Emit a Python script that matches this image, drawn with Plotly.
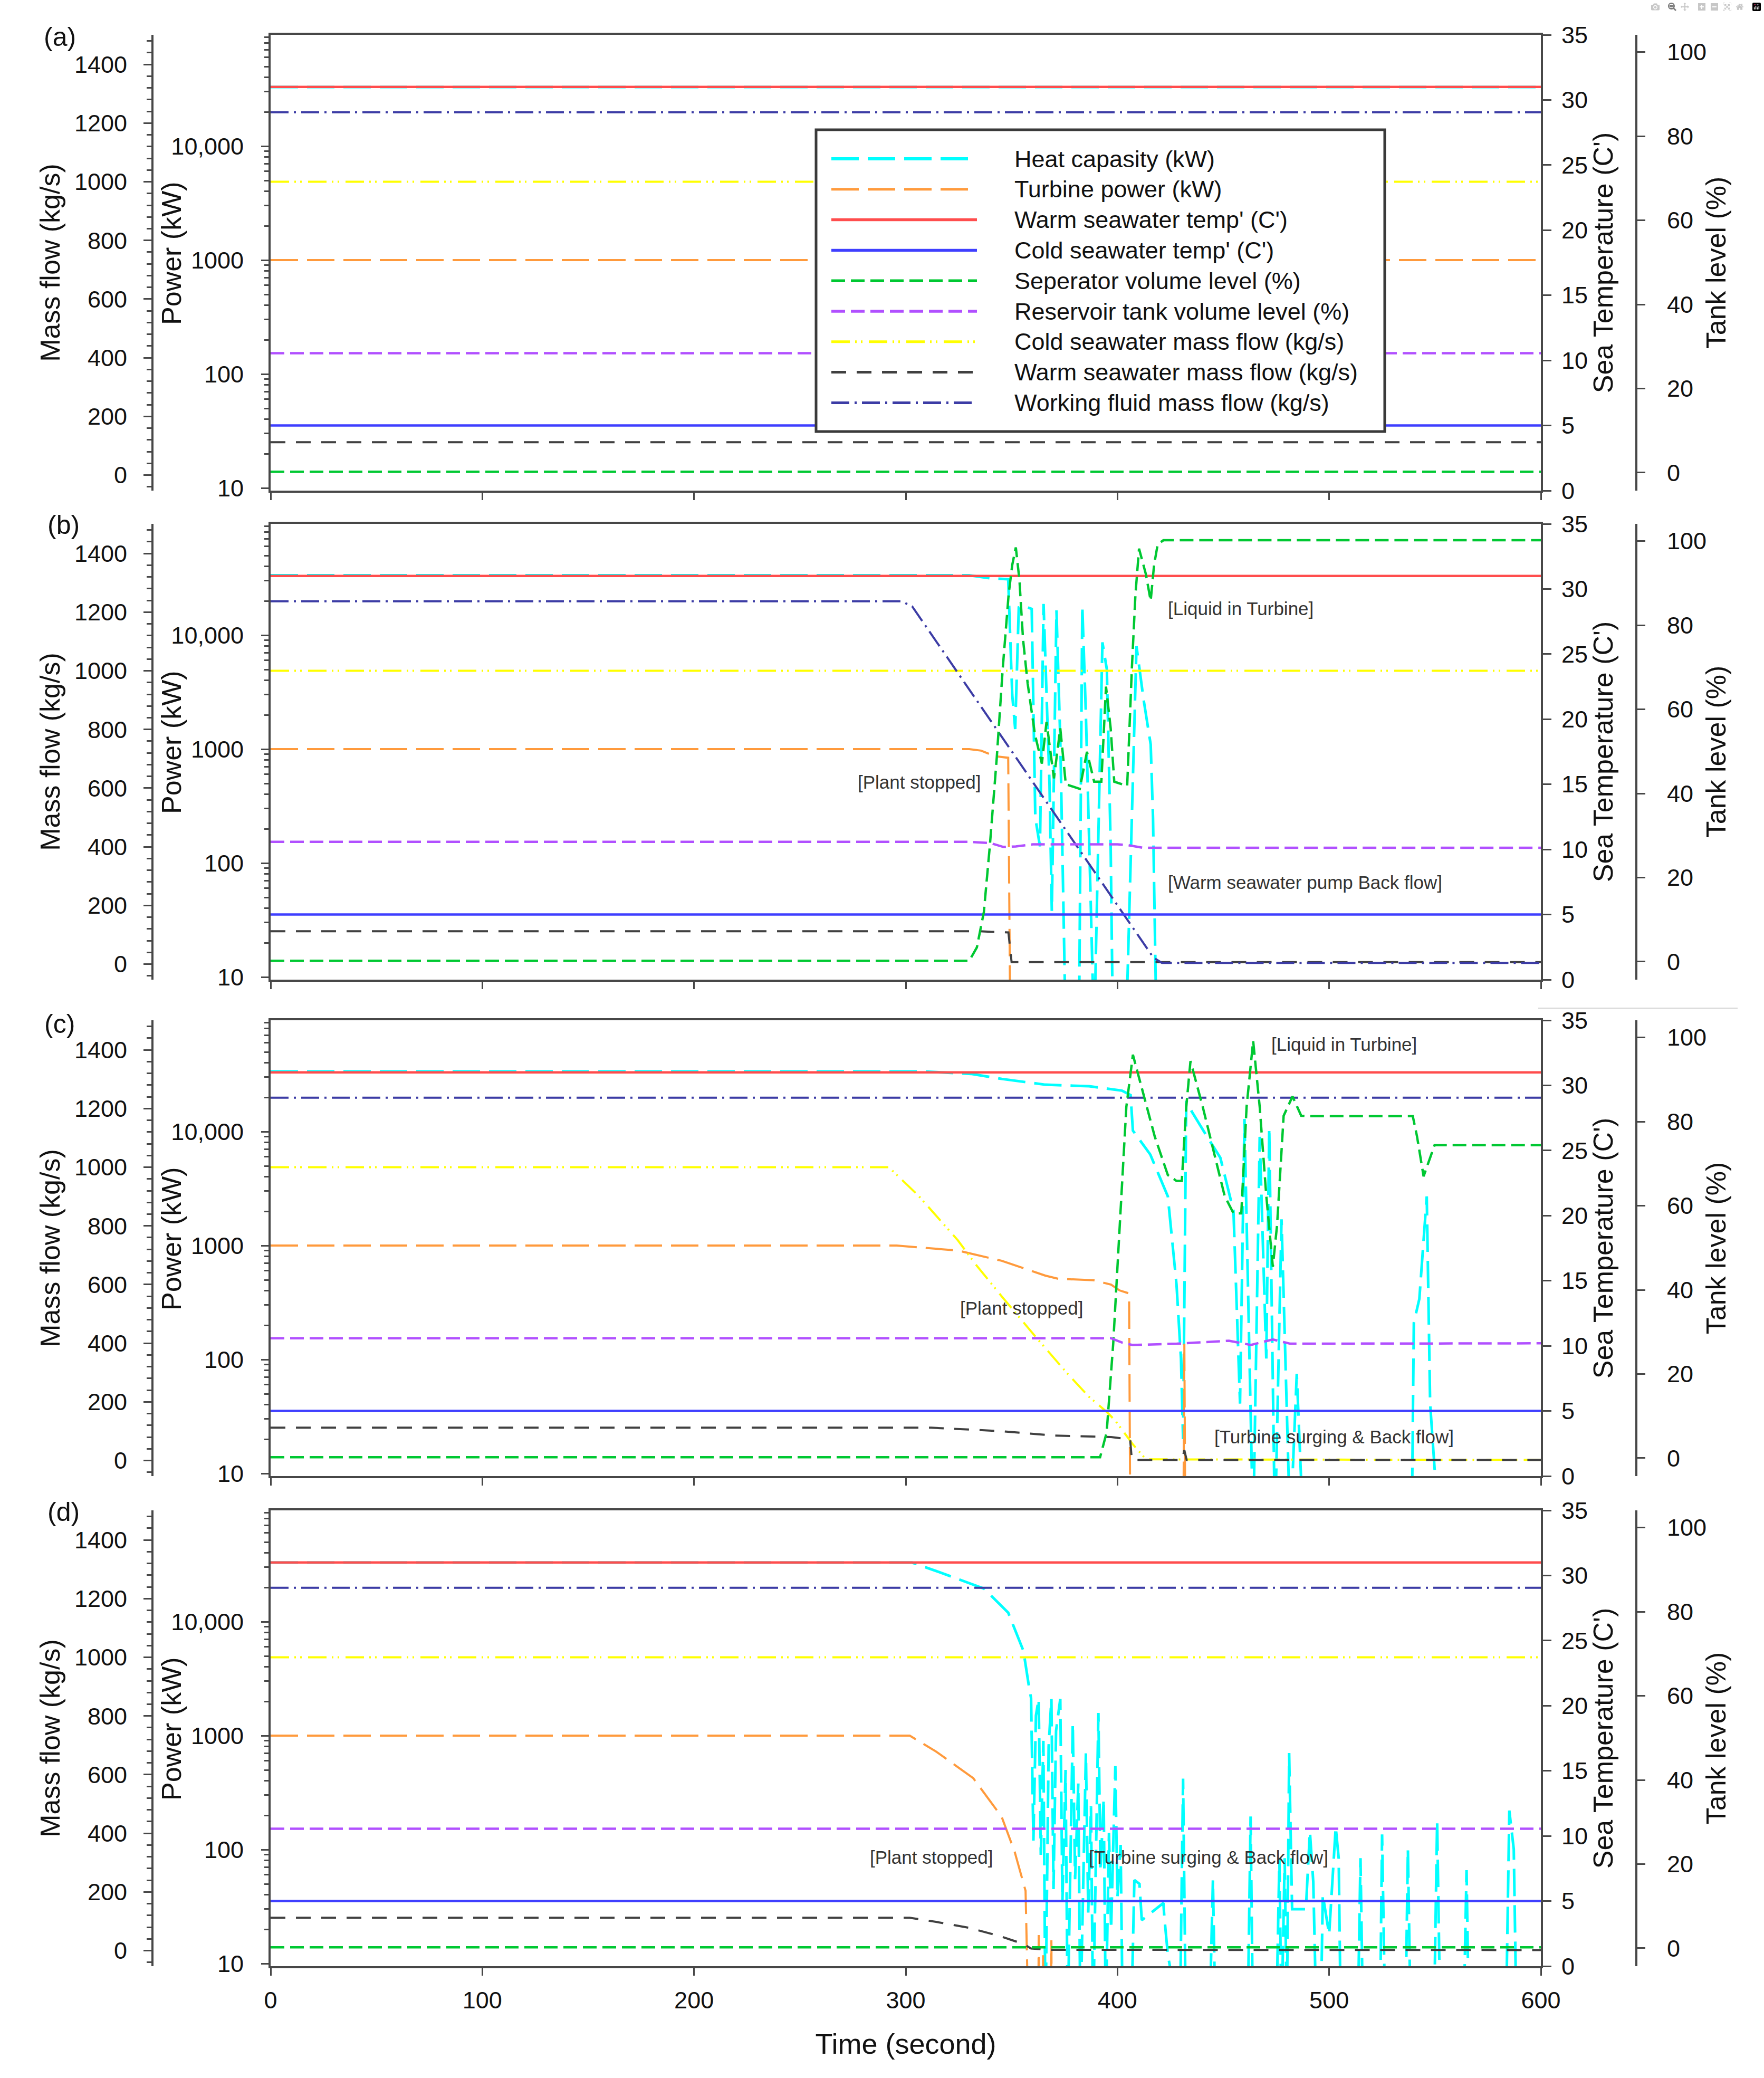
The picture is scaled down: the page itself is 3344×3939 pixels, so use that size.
import plotly.graph_objects as go

W, H = 3344, 3939

# ------------------------------------------------------------------ data
# time axis (s)
t_span = [0, 600]

# (a) steady operation
a_heat = [33000, 33000]
a_turbine = [1000, 1000]
a_warm_temp = [31, 31]
a_cold_temp = [5, 5]
a_separator = [0.2, 0.2]
a_reservoir = [28.4, 28.4]
a_cold_flow = [1000, 1000]
a_warm_flow = [112, 112]
a_wf_flow = [1237, 1237]

# (b) warm seawater pump back flow
b_heat_t = [0, 330, 340, 348.4, 350.3, 351.7, 353.4, 356, 359.5, 361.2, 363.4, 365.1, 367.9,
            369.0, 371.2, 373, 374.5, 375.6, 381.8, 383.4, 385.1, 387, 389.0, 392.9, 395,
            396.8, 397.9, 404.0, 409.0, 412.3, 415.7, 416.8, 418.5, 600]
b_heat = [33500, 33500, 31500, 31000, 3000, 1500, 17500, 18000, 17000, 250, 140, 18800, 500,
          38, 16500, 1200, 40, 3, 3, 18000, 2000, 100, 3, 8650, 5000,
          140, 3, 3, 8000, 2760, 1100, 250, 3, 3]
b_turbine_t = [0, 330, 335.6, 342.3, 348.4, 349.6, 600]
b_turbine = [1000, 1000, 970, 865, 840, 1, 1]
b_separator_t = [0, 330, 333.6, 336.9, 339.7, 343, 345.8, 348.6, 350.3, 352, 353.7, 355.4,
                 357.6, 361, 364.3, 366.5, 370, 373, 375.6, 382.2, 385.6, 389, 392.4, 394.6,
                 396.8, 398.5, 404.6, 406.8, 408.5, 410.2, 413.4, 415.7, 417.3, 419, 421.7, 600]
b_separator = [0.2, 0.2, 3.4, 11.8, 27.4, 48.5, 69.6, 87.3, 94.3, 98.5, 90.8, 76.7,
               66.1, 54.1, 47.1, 57, 43.6, 55.5, 42.2, 41.1, 49.9, 42.8, 42.8, 65.4,
               55.5, 42.8, 41.8, 69.6, 87.3, 98.2, 92.2, 85.8, 94.3, 99.2, 100.2, 100.2]
b_reservoir_t = [0, 330, 340, 346, 352, 360, 380, 400, 405, 412, 600]
b_reservoir = [28.5, 28.5, 28.2, 27.3, 27.4, 27.9, 27.9, 27.9, 27.7, 27.1, 27.1]
b_warm_flow_t = [0, 335, 340, 348.5, 350, 600]
b_warm_flow = [112, 112, 110, 108, 7, 7]
b_wf_flow_t = [0, 298, 303, 417, 421, 600]
b_wf_flow = [1237, 1237, 1220, 22, 4, 4]

# (c) turbine surging & back flow after cold seawater loss
c_heat_t = [0, 308, 330.8, 345.3, 365.9, 386.6, 402.1, 406.2, 407.3, 415.5, 423.8, 427.9,
            430, 431, 432.5, 435.1, 442.4, 448.6, 454.8, 457.9, 460, 464.1, 467.2, 470.3,
            471.7, 474.4, 477.5, 481.6, 484.7, 487.8, 539, 540, 542.6, 546.1, 547.7, 551.9, 600]
c_heat = [33700, 33700, 32100, 29000, 25800, 25000, 22900, 20900, 10200, 6300, 2700, 454,
          102, 20, 18600, 15000, 9000, 5900, 2020, 41, 12900, 3, 9000, 102,
          10800, 3, 1700, 3, 75, 3, 3, 210, 340, 2700, 41, 3, 3]
c_turbine_t = [0, 295.7, 324.6, 345.3, 365.9, 372, 388.7, 397, 401, 405.5, 406.2, 431,
               431.6, 432.2, 600]
c_turbine = [1000, 1000, 904, 735, 545, 511, 496, 454, 404, 380, 1, 1, 138, 1, 1]
c_separator_t = [0, 391.8, 394.9, 398, 401.1, 404.2, 407.3, 412.4, 417.6, 423.8, 427.9,
                 430.4, 432.5, 434.5, 440.3, 446.5, 450.6, 454.8, 458.5, 461, 464.1, 467.2,
                 470.3, 473.4, 475.4, 478.5, 482.7, 486.8, 490, 539.5, 541.5, 544.6, 549.8, 600]
c_separator = [0.2, 0.2, 6.1, 27.2, 55.4, 83.5, 95.9, 86.3, 76.5, 67.3, 65.9,
               65.9, 83.5, 94.4, 83.5, 70.8, 62.4, 58.2, 58.2, 83.5, 99.2, 83.5,
               62.4, 45.5, 55.4, 81.4, 86, 81.4, 81.3, 81.3, 76.5, 67, 74.4, 74.4]
c_reservoir_t = [0, 397, 402, 407, 428, 452.7, 463, 473.4, 481.6, 600]
c_reservoir = [28.5, 28.5, 27.5, 26.9, 27.2, 27.9, 26.9, 28.2, 27.2, 27.3]
c_cold_flow_t = [0, 292, 306, 324.6, 332.9, 345.3, 361.8, 376.3, 386.6, 394.9, 399, 407.3,
                 413.5, 600]
c_cold_flow = [1000, 1000, 903, 751, 670, 560, 418, 297, 217, 166, 136, 55, 4, 2]
c_warm_flow_t = [0, 312, 345.3, 370, 397, 403, 406, 406.8, 430.5, 431.6, 432.7, 600]
c_warm_flow = [112, 112, 100, 85, 80, 75, 72, 2, 2, 35, 2, 2]

# (d) turbine surging & back flow after warm seawater loss
d_heat_t = [0, 303, 314.3, 331.9, 337, 348.4, 355.6, 358.2, 359.2, 360.3, 361.5, 362.8,
            363.8, 365.0, 366.0, 367.5, 368.8, 369.8, 371.0, 373.0, 374.0, 375.5, 376.5,
            378.9, 380.0, 381.5, 382.5, 385.1, 386.2, 387.5, 388.5, 391.0, 392.0, 393.5,
            394.5, 396.0, 397.0, 399.0, 400.0, 401.5, 402.5, 406.5, 408.0, 410.4, 411.5,
            416, 421.7, 422.2, 423.8, 429.5, 431.0, 432.3, 443.5, 445.1, 446.3, 461.5,
            462.9, 464.0, 475, 476.5, 477.5, 479, 480, 481.1, 482.5, 489, 490.9, 492.5,
            494, 496, 497, 500, 503.1, 504.5, 505.5, 513.5, 514.8, 516, 524, 525, 526.5,
            536, 537.2, 538.5, 549.5, 551, 552.5, 563.5, 564.9, 566, 583.5, 585.1, 587.2,
            588.5, 600]
d_heat = [33000, 33000, 27900, 21300, 19500, 12000, 5540, 2700, 2130, 120, 1500, 2100,
          90, 900, 3, 800, 2100, 45, 1100, 2100, 35, 500, 3,
          1280, 55, 380, 3, 700, 28, 240, 3, 1580, 65, 280,
          3, 140, 20, 540, 38, 110, 3, 3, 54, 50, 24,
          28, 34, 25, 12, 3, 420, 3, 3, 54, 3, 3,
          195, 3, 3, 84, 3, 84, 3, 703, 30, 30, 144, 52,
          3, 3, 40, 18, 158, 84, 3, 3, 84, 3, 3, 136, 3,
          3, 101, 3, 3, 178, 3, 3, 66, 3, 3, 220, 101,
          3, 3]
d_turbine_t = [0, 301.9, 314.3, 331.9, 345.3, 351.5, 356.6, 358.5, 362.5, 362.8, 363.1,
               364.6, 364.9, 365.2, 368.5, 368.8, 369.1, 600]
d_turbine = [1000, 1000, 726, 423, 194, 95, 43.5, 1, 1, 17.8, 1, 1, 12, 1, 1, 16, 1, 1]
d_warm_flow_t = [0, 301.9, 314.3, 329.8, 345.3, 355.6, 359.2, 368, 600]
d_warm_flow = [112, 112, 98, 78, 47.7, 22.5, 7.4, 2.7, 2]

# legend order: name, colour, width, dash, axis
SERIES = [
    ("Heat capasity (kW)", "#00ffff", 5, "52px,17px", "power"),
    ("Turbine power (kW)", "#ff9a3c", 4, "52px,17px", "power"),
    ("Warm seawater temp' (C')", "#ff4d4d", 4.5, "solid", "temp"),
    ("Cold seawater temp' (C')", "#3f3fff", 4.5, "solid", "temp"),
    ("Seperator volume level (%)", "#00c832", 4.5, "26px,11px", "tank"),
    ("Reservoir tank volume level (%)", "#b150ff", 4.5, "26px,11px", "tank"),
    ("Cold seawater mass flow (kg/s)", "#ffff00", 4, "35px,10px,3px,8px,3px,12px", "mass"),
    ("Warm seawater mass flow (kg/s)", "#404040", 4, "28px,20px", "mass"),
    ("Working fluid mass flow (kg/s)", "#3c3ca5", 4, "34px,10px,4px,10px", "mass"),
]

panels = [
    [(t_span, a_heat), (t_span, a_turbine), (t_span, a_warm_temp), (t_span, a_cold_temp),
     (t_span, a_separator), (t_span, a_reservoir), (t_span, a_cold_flow),
     (t_span, a_warm_flow), (t_span, a_wf_flow)],
    [(b_heat_t, b_heat), (b_turbine_t, b_turbine), (t_span, a_warm_temp), (t_span, a_cold_temp),
     (b_separator_t, b_separator), (b_reservoir_t, b_reservoir), (t_span, a_cold_flow),
     (b_warm_flow_t, b_warm_flow), (b_wf_flow_t, b_wf_flow)],
    [(c_heat_t, c_heat), (c_turbine_t, c_turbine), (t_span, a_warm_temp), (t_span, a_cold_temp),
     (c_separator_t, c_separator), (c_reservoir_t, c_reservoir), (c_cold_flow_t, c_cold_flow),
     (c_warm_flow_t, c_warm_flow), (t_span, a_wf_flow)],
    [(d_heat_t, d_heat), (d_turbine_t, d_turbine), (t_span, a_warm_temp), (t_span, a_cold_temp),
     (t_span, a_separator), (t_span, a_reservoir), (t_span, a_cold_flow),
     (d_warm_flow_t, d_warm_flow), (t_span, a_wf_flow)],
]

panel_labels = ["(a)", "(b)", "(c)", "(d)"]
notes = [
    (1, "[Liquid in Turbine]", 2212, 1154),
    (1, "[Plant stopped]", 1624, 1483),
    (1, "[Warm seawater pump Back flow]", 2212, 1672),
    (2, "[Liquid in Turbine]", 2408, 1979),
    (2, "[Plant stopped]", 1818, 2479),
    (2, "[Turbine surging & Back flow]", 2300, 2723),
    (3, "[Plant stopped]", 1647, 3520),
    (3, "[Turbine surging & Back flow]", 2062, 3520),
]

# ------------------------------------------------------------------ layout helpers
FONT = "Liberation Sans, Arial, sans-serif"
AXC = "#474747"
PANEL_TOPS = [66, 993, 1934, 2863]
PANEL_H = 864
X_LEFT, X_RIGHT = 513, 2921
MASS_X, TANK_X = 289, 3102
POWER_TITLE_X = 325


def px(x):
    return x / W


def py(y):
    return 1 - y / H


def label(text, x, y, size, color="#111", xanchor="center", angle=0):
    return dict(text=text, x=px(x), y=py(y), xref="paper", yref="paper",
                xanchor=xanchor, yanchor="middle", textangle=angle, showarrow=False,
                font=dict(family=FONT, size=size, color=color))


tick_font = dict(family=FONT, size=45, color="#111")
title_font = dict(family=FONT, size=52, color="#111")
common = dict(showgrid=False, zeroline=False, showline=True, linecolor=AXC, linewidth=4,
              ticks="outside", tickcolor=AXC, tickwidth=3, tickfont=tick_font,
              automargin=False)

power_minor = [m * 10 ** k for k in range(1, 5) for m in range(2, 10)]

fig = go.Figure()
lay = {}
ann = []
for p, top in enumerate(PANEL_TOPS):
    xid = p + 1
    xname = "x" if xid == 1 else f"x{xid}"
    ids = [4 * p + 1, 4 * p + 2, 4 * p + 3, 4 * p + 4]
    yn = ["y" if i == 1 else f"y{i}" for i in ids]
    axis_of = {"power": yn[0], "mass": yn[1], "temp": yn[2], "tank": yn[3]}

    for (name, color, width, dash, ax), (tx, ty) in zip(SERIES, panels[p]):
        fig.add_trace(go.Scatter(
            x=tx, y=ty, mode="lines", name=name, xaxis=xname, yaxis=axis_of[ax],
            line=dict(color=color, width=width, dash=dash),
            showlegend=False, hoverinfo="skip"))

    last = p == 3
    lay["xaxis" if xid == 1 else f"xaxis{xid}"] = dict(
        common, domain=[px(X_LEFT), px(X_RIGHT)], anchor=yn[0], range=[0, 600],
        dtick=100, tick0=0, ticklen=14, mirror=True, showticklabels=last,
        ticklabelstandoff=8,
        title=dict(text="Time (second)" if last else "", font=dict(family=FONT, size=54),
                   standoff=40))

    dom = [py(top + PANEL_H), py(top)]
    lay["yaxis" if ids[0] == 1 else f"yaxis{ids[0]}"] = dict(
        common, domain=dom, anchor=xname, type="log", range=[0.977, 4.977], side="left",
        tickmode="array", tickvals=[10, 100, 1000, 10000],
        ticktext=["10", "100", "1000", "10,000"], ticklen=14, ticklabelstandoff=24,
        minor=dict(tickmode="array", tickvals=power_minor, ticks="outside", ticklen=8,
                   tickcolor=AXC, tickwidth=3))
    # power title sits between the two left axes, as in the original
    ann.append(label("Power (kW)", POWER_TITLE_X, top + 414, 52, angle=-90))
    lay[f"yaxis{ids[1]}"] = dict(
        common, overlaying=yn[0], anchor="free", position=px(MASS_X), side="left",
        range=[-53, 1501], dtick=200, tick0=0, ticklen=15, ticklabelstandoff=22,
        minor=dict(dtick=40, tick0=0, ticks="outside", ticklen=9, tickcolor=AXC, tickwidth=3),
        title=dict(text="Mass flow (kg/s)", font=title_font, standoff=10))
    lay[f"yaxis{ids[2]}"] = dict(
        common, overlaying=yn[0], anchor=xname, side="right", range=[0, 35], dtick=5,
        tick0=0, ticklen=16, ticklabelstandoff=10,
        title=dict(text="Sea Temperature (C')", font=title_font, standoff=8))
    lay[f"yaxis{ids[3]}"] = dict(
        common, overlaying=yn[0], anchor="free", position=px(TANK_X), side="right",
        range=[-4.27, 104.1], dtick=20, tick0=0, ticklen=15, ticklabelstandoff=32,
        title=dict(text="Tank level (%)", font=title_font, standoff=0))

# panel letters and notes
label_pos = [(113, 70), (120, 995), (113, 1941), (120, 2866)]
for lab, (lx, ly) in zip(panel_labels, label_pos):
    ann.append(label(lab, lx, ly, 50))
for _, text, nx, ny in notes:
    ann.append(label(text, nx, ny, 35, color="#333", xanchor="left"))

# hand drawn legend box as in the original
shapes = [dict(type="rect", xref="paper", yref="paper", layer="above",
               x0=px(1547), x1=px(2625), y0=py(818), y1=py(246),
               line=dict(color="#3a3a3a", width=5), fillcolor="white")]
for i, (name, color, width, dash, _) in enumerate(SERIES):
    ry = 301 + 57.8 * i
    shapes.append(dict(type="line", xref="paper", yref="paper", layer="above",
                       x0=px(1576), x1=px(1852), y0=py(ry), y1=py(ry),
                       line=dict(color=color, width=width + 1, dash=dash)))
    ann.append(label(name, 1921, ry, 45, xanchor="left"))
# faint separator left over between (b) and (c)
shapes.append(dict(type="line", xref="paper", yref="paper", x0=px(2916), x1=px(3294),
                   y0=py(1911), y1=py(1911), line=dict(color="#d5d5d5", width=2)))

fig.update_layout(
    width=W, height=H, margin=dict(l=0, r=0, t=0, b=0, autoexpand=False),
    paper_bgcolor="white", plot_bgcolor="white", showlegend=False,
    font=dict(family=FONT, color="#111"),
    annotations=ann, shapes=shapes, **lay)

fig.write_html("out.html", post_script="document.body.style.margin='0';")
